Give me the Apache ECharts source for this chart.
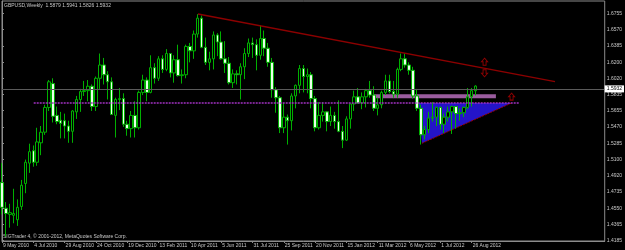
<!DOCTYPE html>
<html><head><meta charset="utf-8">
<script src="https://cdn.jsdelivr.net/npm/echarts@6/dist/echarts.min.js"></script>
<style>html,body{margin:0;padding:0;background:#000}#c{width:625px;height:250px}</style>
</head><body><div id="c"></div>
<script>
// Weekly GBPUSD candles, first week = 9 May 2010
const openP = [1.4840,1.4550,1.4480,1.4470,1.4420,1.4570,1.4830,1.5060,1.5200,1.5070,1.5290,1.5410,1.5690,1.5960,1.5600,1.5545,1.5540,1.5480,1.5420,1.5640,1.5780,1.5870,1.5880,1.5930,1.5700,1.6020,1.6170,1.6060,1.5980,1.5600,1.5780,1.5790,1.5500,1.5450,1.5600,1.5460,1.5860,1.6000,1.5860,1.6140,1.6020,1.6240,1.6120,1.6300,1.6080,1.6230,1.6050,1.6060,1.6380,1.6330,1.6520,1.6700,1.6370,1.6200,1.6240,1.6510,1.6430,1.6240,1.6190,1.5970,1.6070,1.6060,1.6150,1.6300,1.6420,1.6400,1.6280,1.6470,1.6360,1.6200,1.5890,1.5800,1.5460,1.5580,1.5540,1.5820,1.5940,1.6130,1.6040,1.6060,1.5790,1.5460,1.5600,1.5640,1.5530,1.5600,1.5530,1.5420,1.5320,1.5560,1.5730,1.5810,1.5740,1.5810,1.5880,1.5830,1.5680,1.5720,1.5860,1.5990,1.5870,1.5840,1.6120,1.6240,1.6170,1.6110,1.5820,1.5680,1.5380,1.5440,1.5570,1.5580,1.5690,1.5500,1.5580,1.5640,1.5700,1.5620,1.5630,1.5690,1.5810,1.5879];
const highP = [1.5060,1.4620,1.4600,1.4770,1.4650,1.4870,1.5100,1.5280,1.5260,1.5460,1.5480,1.5720,1.6000,1.6020,1.5700,1.5640,1.5620,1.5540,1.5660,1.5820,1.5900,1.5990,1.6000,1.5950,1.6040,1.6300,1.6250,1.6100,1.6030,1.5800,1.5910,1.5850,1.5540,1.5650,1.5760,1.5880,1.6060,1.6030,1.6280,1.6190,1.6270,1.6280,1.6350,1.6300,1.6280,1.6400,1.6120,1.6400,1.6420,1.6560,1.6745,1.6730,1.6480,1.6320,1.6550,1.6530,1.6550,1.6440,1.6260,1.6120,1.6110,1.6190,1.6360,1.6470,1.6480,1.6460,1.6620,1.6560,1.6420,1.6250,1.5920,1.5820,1.5740,1.5610,1.5850,1.5950,1.6170,1.6170,1.6130,1.6090,1.5820,1.5750,1.5750,1.5650,1.5700,1.5640,1.5770,1.5480,1.5590,1.5730,1.5880,1.5910,1.5860,1.5900,1.5990,1.5930,1.5800,1.5880,1.6060,1.6060,1.5990,1.6140,1.6300,1.6300,1.6200,1.6150,1.5900,1.5720,1.5480,1.5640,1.5750,1.5700,1.5700,1.5620,1.5700,1.5710,1.5700,1.5680,1.5700,1.5910,1.5910,1.5941];
const lowP = [1.4480,1.4230,1.4330,1.4380,1.4350,1.4530,1.4720,1.4950,1.5020,1.5030,1.5150,1.5380,1.5650,1.5520,1.5500,1.5340,1.5340,1.5290,1.5290,1.5560,1.5640,1.5820,1.5760,1.5650,1.5650,1.5900,1.5950,1.5780,1.5610,1.5350,1.5660,1.5470,1.5370,1.5350,1.5350,1.5440,1.5830,1.5760,1.5850,1.5960,1.5990,1.6080,1.6100,1.6030,1.5970,1.6040,1.5960,1.6020,1.6200,1.6240,1.6480,1.6360,1.6170,1.6110,1.6120,1.6270,1.6230,1.6080,1.5950,1.5910,1.5950,1.5780,1.6010,1.6260,1.6250,1.6110,1.6230,1.6270,1.6150,1.5800,1.5630,1.5400,1.5400,1.5270,1.5430,1.5680,1.5850,1.5860,1.5850,1.5680,1.5420,1.5440,1.5530,1.5420,1.5480,1.5450,1.5410,1.5230,1.5310,1.5450,1.5650,1.5730,1.5670,1.5690,1.5800,1.5650,1.5600,1.5680,1.5830,1.5850,1.5800,1.5800,1.6100,1.6140,1.6060,1.5790,1.5650,1.5270,1.5330,1.5400,1.5530,1.5480,1.5440,1.5400,1.5530,1.5390,1.5450,1.5540,1.5580,1.5670,1.5700,1.5826];
const closeP = [1.4560,1.4490,1.4500,1.4490,1.4560,1.4810,1.5070,1.5190,1.5070,1.5300,1.5410,1.5690,1.5980,1.5590,1.5530,1.5510,1.5480,1.5420,1.5650,1.5780,1.5870,1.5880,1.5930,1.5700,1.6020,1.6170,1.6060,1.5980,1.5610,1.5780,1.5790,1.5500,1.5450,1.5600,1.5460,1.5860,1.6000,1.5860,1.6140,1.6020,1.6240,1.6120,1.6300,1.6080,1.6230,1.6050,1.6060,1.6380,1.6330,1.6520,1.6700,1.6370,1.6200,1.6240,1.6510,1.6430,1.6240,1.6190,1.5970,1.6070,1.6060,1.6150,1.6300,1.6420,1.6400,1.6280,1.6470,1.6360,1.6200,1.5890,1.5800,1.5460,1.5580,1.5540,1.5820,1.5940,1.6130,1.6040,1.6060,1.5790,1.5460,1.5600,1.5640,1.5530,1.5600,1.5530,1.5420,1.5320,1.5560,1.5730,1.5810,1.5740,1.5810,1.5880,1.5830,1.5680,1.5720,1.5860,1.5990,1.5870,1.5840,1.6120,1.6240,1.6170,1.6110,1.5820,1.5680,1.5380,1.5440,1.5570,1.5580,1.5690,1.5500,1.5580,1.5640,1.5700,1.5620,1.5630,1.5690,1.5810,1.5880,1.5932];

const yTicks = [1.4185,1.4365,1.4550,1.4735,1.4920,1.5100,1.5285,1.5470,1.5655,1.5835,1.6020,1.6200,1.6385,1.6570,1.6755];
const bidPrice = 1.5932;
const titleText = 'GBPUSD,Weekly  1.5879 1.5941 1.5826 1.5932';
const footText = 'SIGTrader 4, \u00a9 2001-2012, MetaQuotes Software Corp.';

// drawn objects (x in week index, y in price)
const trendLine = [[50.06, 1.6747], [141.3, 1.5981]];
const purpleLine = [[8.1, 1.5744], [132.1, 1.5744]];
const hatchBand = [[95.0, 1.5839], [126.2, 1.5793]];
const triangle = [[106.5, 1.5740], [107.3, 1.5284], [130.2, 1.5740]];
const upArrows = [[123.3, 1.6207], [130.2, 1.5812]];
const downArrows = [[123.3, 1.6076]];

const NSLOTS = 155;
const MON = ['Jan','Feb','Mar','Apr','May','Jun','Jul','Aug','Sep','Oct','Nov','Dec'];
const start = Date.UTC(2010, 4, 9);
const cats = [];
for (let k = 0; k < NSLOTS; k++) {
  const d = new Date(start + k * 7 * 86400000);
  cats.push(d.getUTCDate() + ' ' + MON[d.getUTCMonth()] + ' ' + d.getUTCFullYear());
}
const candles = openP.map((o, i) => [o, closeP[i], lowP[i], highP[i]]);
const nBars = openP.length;
const showLab = (i) => i % 8 === 0 && i < nBars;

const GRAY = '#8c8c8c', TXT = '#c8c8c8', FONT = 'Liberation Sans';
const chart = echarts.init(document.getElementById('c'));
chart.setOption({
  backgroundColor: '#000',
  animation: false,
  grid: { left: 1, top: 1, right: 18, bottom: 9, show: true, borderColor: GRAY, borderWidth: 1, backgroundColor: '#000' },
  xAxis: [{
    type: 'category', data: cats, boundaryGap: false,
    axisLine: { lineStyle: { color: GRAY } },
    axisTick: { interval: showLab, length: 2, lineStyle: { color: GRAY } },
    axisLabel: { interval: showLab, align: 'left', margin: 2, color: TXT, fontSize: 5, fontFamily: FONT, padding: [0,0,0,1] },
    splitLine: { show: false }
  }, {
    type: 'value', min: 0, max: NSLOTS - 1, show: false
  }],
  yAxis: {
    type: 'value', position: 'right', min: 1.41792, max: 1.68941, scale: true,
    axisLine: { show: true, lineStyle: { color: GRAY } },
    axisTick: { show: true, length: 2, customValues: yTicks, lineStyle: { color: GRAY } },
    axisLabel: { customValues: yTicks, formatter: v => v.toFixed(4), color: TXT, fontSize: 5, fontFamily: FONT, margin: 2 },
    splitLine: { show: false }
  },
  graphic: [
    { type: 'text', left: 4, top: 3, style: { text: titleText, fill: TXT, font: '5px ' + FONT } },
    { type: 'text', left: 3, top: 234, style: { text: footText, fill: TXT, font: '5px ' + FONT } }
  ],
  series: [
    { type: 'line', data: [], z: 1, xAxisIndex: 1,
      markArea: { silent: true, itemStyle: { color: '#9a5c9e' },
        data: [[{ coord: hatchBand[0] }, { coord: hatchBand[1] }]] } },
    { type: 'custom', z: 1, xAxisIndex: 1, silent: true,
      data: [[triangle[0][0], triangle[0][1], triangle[1][0], triangle[1][1], triangle[2][0], triangle[2][1]]],
      encode: { x: [0, 2, 4], y: [1, 3, 5] },
      renderItem: (params, api) => {
        const p0 = api.coord([api.value(0), api.value(1)]);
        const p1 = api.coord([api.value(2), api.value(3)]);
        const p2 = api.coord([api.value(4), api.value(5)]);
        return { type: 'group', children: [
          { type: 'polygon', shape: { points: [p0, p1, p2] }, style: { fill: '#2414c8' } },
          { type: 'polyline', shape: { points: [p1, p2] }, style: { stroke: '#a00000', lineWidth: 1, lineDash: [2, 1] } }
        ] };
      } },
    { type: 'line', data: [], z: 2,
      markLine: { silent: true, symbol: ['none', 'none'],
        lineStyle: { color: '#5a5a5a', width: 1, type: 'solid' },
        label: { show: true, position: 'end', distance: 0, formatter: bidPrice.toFixed(4), backgroundColor: '#fff', color: '#000', fontSize: 5, fontFamily: FONT, padding: [1, 2] },
        data: [{ yAxis: bidPrice }] } },
    { type: 'candlestick', data: candles, z: 3, barWidth: 3,
      itemStyle: { color: '#000', color0: '#eaffea', borderColor: '#00b000', borderColor0: '#00b000', borderWidth: 1 } },
    { type: 'line', data: [], z: 4, xAxisIndex: 1,
      markLine: { silent: true, symbol: ['none', 'none'],
        lineStyle: { color: '#a030c0', width: 1.5, type: [2, 1] }, label: { show: false },
        data: [[{ coord: purpleLine[0] }, { coord: purpleLine[1] }]] } },
    { type: 'line', data: [], z: 5, xAxisIndex: 1,
      markLine: { silent: true, symbol: ['none', 'none'],
        lineStyle: { color: '#8c0000', width: 1.3, type: 'solid' }, label: { show: false },
        data: [[{ coord: trendLine[0] }, { coord: trendLine[1] }]] } },
    { type: 'scatter', z: 6, xAxisIndex: 1, data: upArrows, symbolSize: [6, 7],
      symbol: 'path://M3,0 L6,3 L4.5,3 L4.5,6 L1.5,6 L1.5,3 L0,3 Z',
      itemStyle: { color: 'rgba(0,0,0,0)', borderColor: '#b00000', borderWidth: 1 } },
    { type: 'scatter', z: 6, xAxisIndex: 1, data: downArrows, symbolSize: [6, 7],
      symbol: 'path://M1.5,0 L4.5,0 L4.5,3 L6,3 L3,6 L0,3 L1.5,3 Z',
      itemStyle: { color: 'rgba(0,0,0,0)', borderColor: '#b00000', borderWidth: 1 } }
  ]
});
</script></body></html>
